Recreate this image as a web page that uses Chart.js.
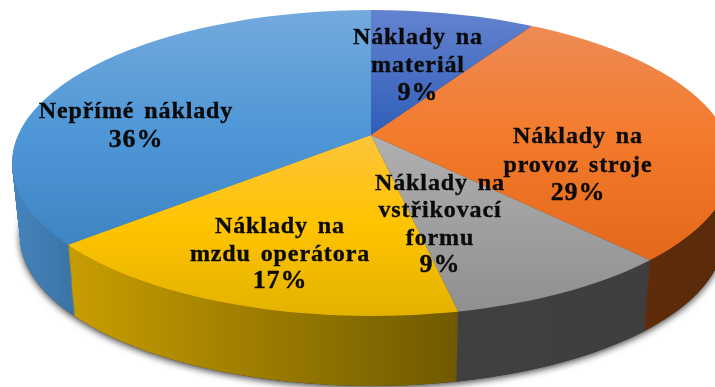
<!DOCTYPE html>
<html>
<head>
<meta charset="utf-8">
<style>html,body{margin:0;padding:0;background:#fff}canvas{display:block}</style>
<script src="https://cdn.jsdelivr.net/npm/chart.js@4"></script>
</head>
<body>
<canvas id="c" width="715" height="387"></canvas>
<script>
const categories = ['Náklady na materiál','Náklady na provoz stroje','Náklady na vstřikovací formu','Náklady na mzdu operátora','Nepřímé náklady'];
const values = [9,29,9,17,36];
const labelLines = [['Náklady na','materiál'],['Náklady na','provoz stroje'],['Náklady na','vstřikovací','formu'],['Náklady na','mzdu operátora'],['Nepřímé náklady']];
const topColors = [['#6383cf','#2f5eb9'],['#ee8b55','#f37a2a','#e4681b'],['#b0b0b0','#8f8f8f'],['#fdc43c','#ffc400','#e3b200'],['#74aade','#4f97d6','#3d84c3']];
const topRanges = [[10,135],[25,260],[135,315],[135,315],[10,250]];
const wallColors = [['#26448a','#26448a'],['#5e2c0a','#5a2a0a'],['#404040','#3e3e3e'],['#c49b00','#6e5800'],['#4583bd','#38709f']];
const wallRanges = [[372,530],[643,715],[455,643],[78,456],[12,80]];

const view = {ax:371, ay:135, sx:2.5, sy:1.075, shear:0.05, cx:372, cy:163, rx:360, ry:153, depth:73, drx:8, dry:3};
const labelPos = [[418,44,28],[578,143,28.5],[440,190,27.3],[280,233,27.5],[136,118,29]];

function ellipse(ctx,dy,dr,dry){
  ctx.beginPath();
  ctx.ellipse(view.cx,view.cy+dy,view.rx-dr,view.ry-dry,0,0,Math.PI*2);
}
function topFill(c){
  const chart=c.chart, i=c.dataIndex, area=chart.chartArea;
  if(!area) return topColors[i][0];
  const my=(area.top+area.bottom)/2, r=topRanges[i], cols=topColors[i];
  const g=chart.ctx.createLinearGradient(0,my+(r[0]-view.ay)/view.sy,0,my+(r[1]-view.ay)/view.sy);
  cols.forEach((col,k)=>g.addColorStop(k/(cols.length-1),col));
  return g;
}
function project(ctx,dy,shear,mx,my){
  ctx.transform(view.sx,0,shear*view.sy,view.sy,view.ax,view.ay+dy);
  ctx.translate(-mx,-my);
}
const pie3d={
  id:'pie3d',
  beforeDatasetsDraw(chart){
    const ctx=chart.ctx, arcs=chart.getDatasetMeta(0).data, v=view;
    const mx=arcs[0].x, my=arcs[0].y;
    ctx.save();
    ctx.shadowColor='rgba(0,0,0,0.75)';ctx.shadowBlur=7;ctx.shadowOffsetY=2;ctx.shadowOffsetX=0;
    ctx.fillStyle='#333';
    ellipse(ctx,v.depth,v.drx,v.dry);ctx.fill();
    ctx.restore();
    const walls=arcs.map((a,i)=>{
      const r=wallRanges[i];
      const g=ctx.createLinearGradient(mx+(r[0]-v.ax)/v.sx,0,mx+(r[1]-v.ax)/v.sx,0);
      g.addColorStop(0,wallColors[i][0]);g.addColorStop(1,wallColors[i][1]);
      const w=Object.create(a);
      w.options=Object.assign({},a.options,{backgroundColor:g,borderWidth:0});
      return w;
    });
    for(let d=v.depth;d>=1;d--){
      const t=d/v.depth;
      ctx.save();
      ellipse(ctx,d,v.drx*t,v.dry*t);ctx.clip();
      project(ctx,d,v.shear,mx,my);
      walls.forEach(w=>w.draw(ctx));
      ctx.restore();
    }
    // upper half of the disc: the library's own dataset draw
    ctx.save();
    ellipse(ctx,0,0,0);ctx.clip();
    ctx.beginPath();ctx.rect(0,0,chart.width,v.ay);ctx.clip();
    project(ctx,0,0,mx,my);
  },
  afterDatasetsDraw(chart){
    const ctx=chart.ctx, arcs=chart.getDatasetMeta(0).data, v=view;
    ctx.restore();
    // lower half of the disc, sheared for the view's perspective
    ctx.save();
    ellipse(ctx,0,0,0);ctx.clip();
    ctx.beginPath();ctx.rect(0,v.ay,chart.width,chart.height-v.ay);ctx.clip();
    project(ctx,0,v.shear,arcs[0].x,arcs[0].y);
    arcs.forEach(a=>a.draw(ctx));
    ctx.restore();

    ctx.save();
    ctx.fillStyle='#0a0a0a';ctx.strokeStyle='#0a0a0a';ctx.lineWidth=0.35;
    ctx.textAlign='center';ctx.textBaseline='alphabetic';
    ctx.letterSpacing='0.9px';ctx.wordSpacing='3px';
    categories.forEach((name,i)=>{
      const lines=labelLines[i].concat([values[i]+'%']);
      const p=labelPos[i];
      lines.forEach((s,k)=>{
        ctx.font=(k===lines.length-1?'bold 26px':'bold 24px')+' "Liberation Serif"';
        ctx.fillText(s,p[0],p[1]+k*p[2]);
        ctx.strokeText(s,p[0],p[1]+k*p[2]);
      });
    });
    ctx.restore();
  }
};
new Chart(document.getElementById('c'),{
  type:'pie',
  data:{labels:categories,datasets:[{data:values,backgroundColor:topFill,borderWidth:0}]},
  options:{responsive:false,animation:false,events:[],
    layout:{padding:0},
    plugins:{legend:{display:false},tooltip:{enabled:false}}},
  plugins:[pie3d]
});
</script>
</body>
</html>
